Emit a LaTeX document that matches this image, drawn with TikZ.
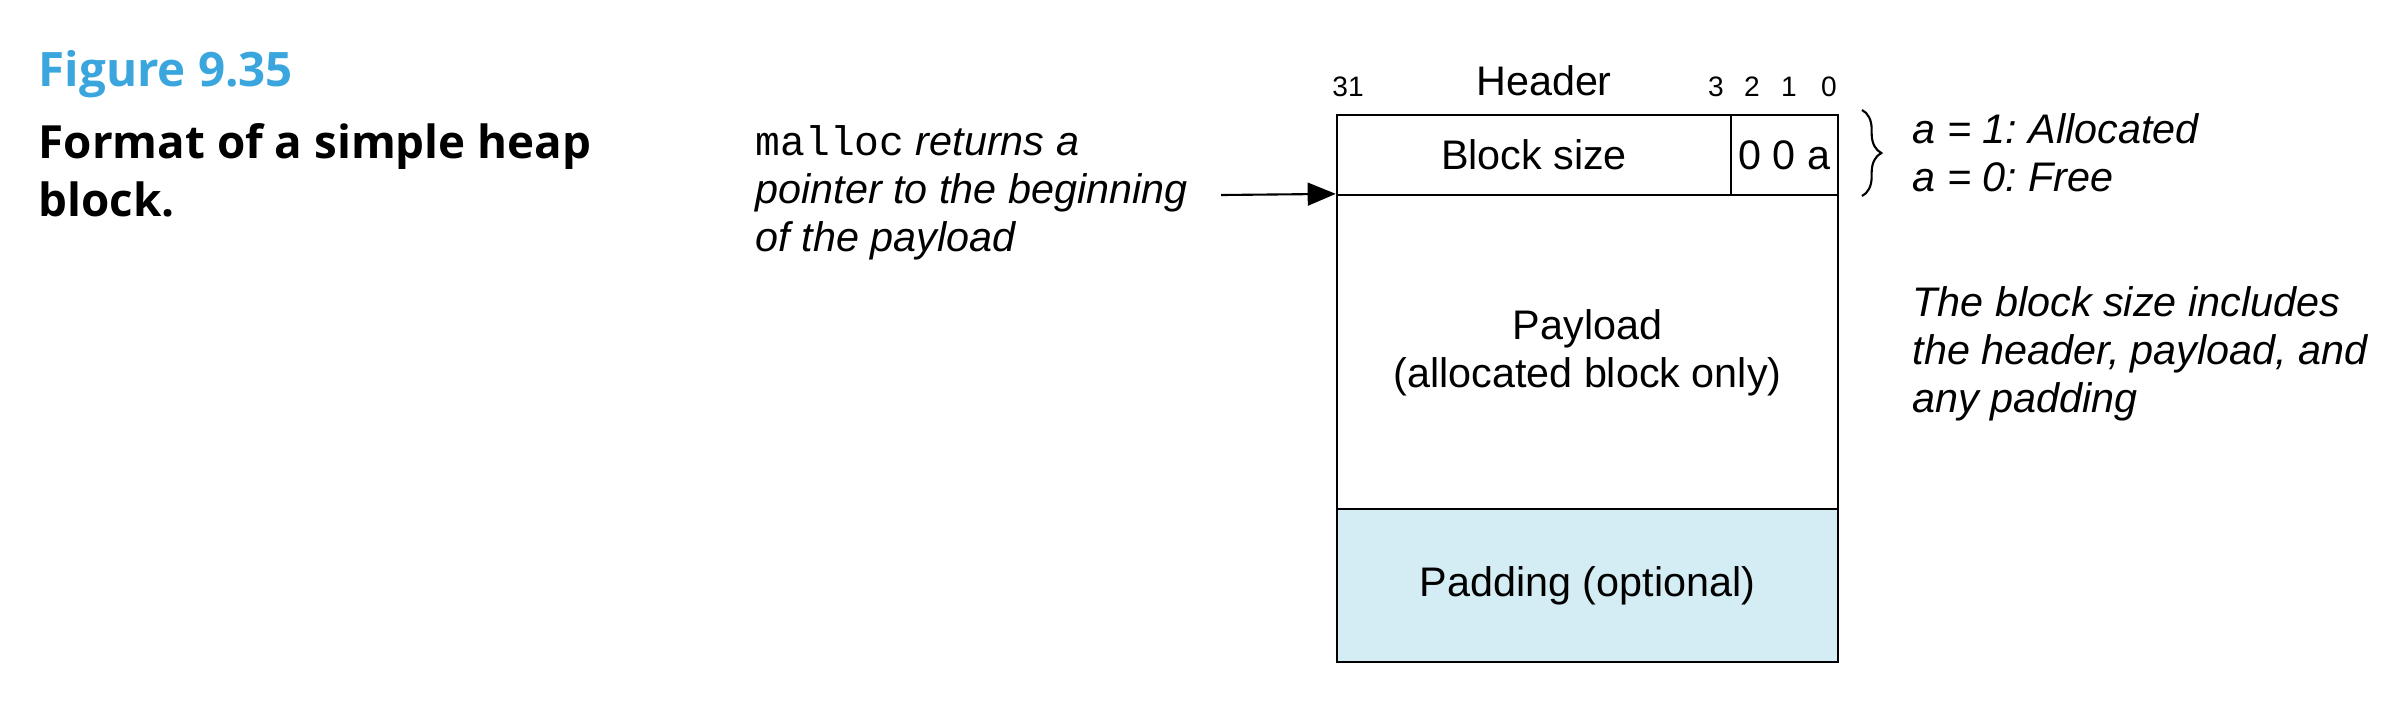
\documentclass[tikz,border=0pt]{standalone}
\usepackage{fontspec}
\setmainfont{Liberation Sans}
\setmonofont{Liberation Mono}
\newfontfamily\capfont{Open Sans}
\usetikzlibrary{decorations.pathreplacing,arrows.meta}
\definecolor{figblue}{HTML}{3AA6DD}
\definecolor{padblue}{HTML}{D4ECF3}
\frenchspacing
\tikzset{
  cell/.style={draw=black, line width=0.6pt, inner sep=0pt, minimum height=#1},
  txt/.style={inner sep=0pt, font=\fontsize{11.75}{13.5}\selectfont},
  itxt/.style={inner sep=0pt, align=left, anchor=west, font=\fontsize{11.75}{13.7}\selectfont\itshape},
  bit/.style={inner sep=0pt, font=\fontsize{8}{9}\selectfont},
}
\begin{document}
\begin{tikzpicture}[x=0.01cm, y=-0.01cm]
\useasboundingbox (0,0) rectangle (2402,708);
% caption
\node[inner sep=0pt, anchor=west, text=figblue, font=\fontsize{13.5}{16}\selectfont\capfont\bfseries] (figno) at (38,74) {Figure 9.35};
\node[inner sep=0pt, anchor=west, align=left, font=\fontsize{13}{16.5}\selectfont\capfont\bfseries] (cap) at (38,170) {Format of a simple heap\\block.};
% block
\node[cell=0.8cm, minimum width=3.94cm] (hdr) at (1534,155) {};
\node[txt] (bsize) at (1534,155) {Block size};
\node[cell=0.8cm, minimum width=1.07cm] (flags) at (1784.5,155) {};
\node[txt] (flagtxt) at (1784.5,155) {0 0 a};
\node[cell=3.14cm, minimum width=5.01cm] (payload) at (1587.5,352) {};
\node[txt, align=center, font=\fontsize{11.75}{13.7}\selectfont] (paytxt) at (1587.5,353) {Payload\\(allocated block only)};
\node[cell=1.53cm, minimum width=5.01cm, fill=padblue] (padding) at (1587.5,585.5) {};
\node[txt] (padtxt) at (1587.5,585.5) {Padding (optional)};
% header labels
\node[bit] (b31) at (1348,87) {31};
\node[txt] (hlabel) at (1544,81) {Header};
\node[bit] (b3) at (1716,87) {3};
\node[bit] (b2) at (1752,87) {2};
\node[bit] (b1) at (1789,87) {1};
\node[bit] (b0) at (1829,87) {0};
% pointer text and arrow
\node[itxt] (ptrtxt) at (755,193) {{\upshape\ttfamily malloc} returns a\\pointer to the beginning\\of the payload};
\coordinate (ptrstart) at (1221,195);
\draw[line width=0.6pt, -{Triangle[length=8pt,width=6.5pt]}] (ptrstart) -- (payload.north west);
% brace and notes
\draw[line width=0.6pt, decorate, decoration={brace, amplitude=5.5pt}] (1862,110) -- (1862,196);
\node[itxt] (anote) at (1912,152.5) {a = 1: Allocated\\a = 0: Free};
\node[itxt] (snote) at (1912,354) {The block size includes\\the header, payload, and\\any padding};
\end{tikzpicture}
\end{document}
